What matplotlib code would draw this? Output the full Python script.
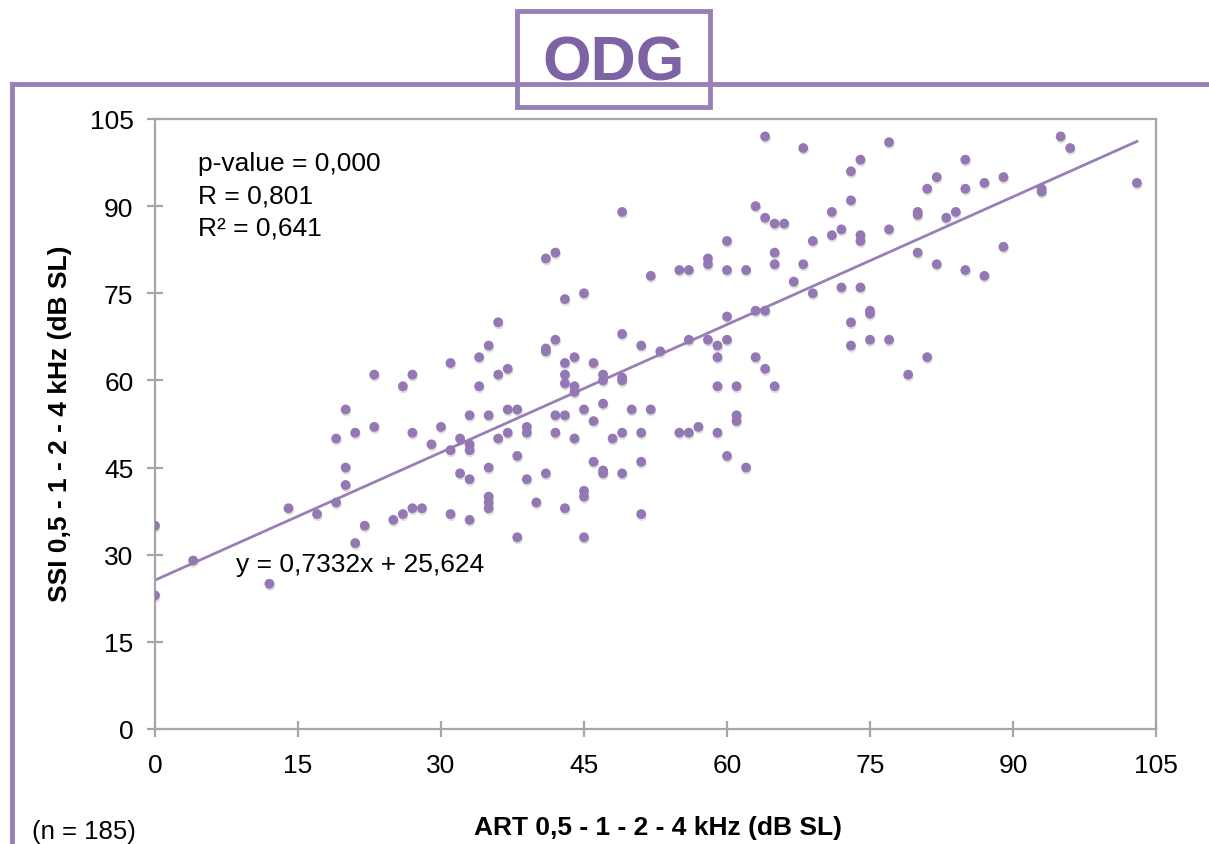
import matplotlib
matplotlib.use("Agg")
import matplotlib.pyplot as plt
import matplotlib.patheffects as pe
from matplotlib.lines import Line2D
from matplotlib.patches import Rectangle

plt.rcParams['font.family'] = ['Liberation Sans', 'DejaVu Sans']

# ART (x) and SSI (y) thresholds, dB SL
art = [0, 0, 4, 12, 14, 17, 19, 19, 20, 20, 20, 21, 21, 22, 23, 23, 25, 26, 26,
       27, 27, 27, 28, 29, 30, 31, 31, 31, 32, 32, 33, 33, 33, 33, 33, 34, 34,
       35, 35, 35, 35, 35, 35, 36, 36, 36, 37, 37, 37, 38, 38, 38, 39, 39, 39,
       40, 41, 41, 41, 41, 42, 42, 42, 42, 43, 43, 43, 43, 43, 43, 44, 44, 44,
       44, 45, 45, 45, 45, 45, 46, 46, 46, 47, 47, 47, 47, 47, 48, 49, 49, 49,
       49, 49, 49, 50, 51, 51, 51, 51, 52, 52, 53, 55, 55, 56, 56, 56, 57, 58,
       58, 58, 59, 59, 59, 59, 60, 60, 60, 60, 60, 61, 61, 61, 62, 62, 63, 63,
       63, 64, 64, 64, 64, 65, 65, 65, 65, 66, 67, 68, 68, 69, 69, 71, 71, 72,
       72, 73, 73, 73, 73, 74, 74, 74, 74, 75, 75, 75, 77, 77, 77, 79, 80, 80,
       80, 81, 81, 82, 82, 83, 84, 85, 85, 85, 87, 87, 89, 89, 93, 93, 95, 96,
       103]
ssi = [35, 23, 29, 25, 38, 37, 50, 39, 55, 45, 42, 51, 32, 35, 61, 52, 36, 59, 37,
       61, 51, 38, 38, 49, 52, 63, 48, 37, 50, 44, 54, 49, 48, 43, 36, 64, 59,
       66, 54, 45, 40, 39, 38, 70, 61, 50, 62, 55, 51, 55, 47, 33, 52, 51, 43,
       39, 81, 65, 65.5, 44, 82, 67, 54, 51, 74, 63, 61, 59.5, 54, 38, 64, 59, 58,
       50, 75, 55, 41, 40, 33, 63, 53, 46, 61, 60, 56, 44, 44.5, 50, 89, 68, 60,
       60.5, 51, 44, 55, 66, 51, 46, 37, 78, 55, 65, 79, 51, 79, 67, 51, 52, 81,
       80, 67, 66, 64, 59, 51, 84, 79, 71, 67, 47, 59, 54, 53, 79, 45, 90, 72,
       64, 102, 88, 72, 62, 87, 82, 80, 59, 87, 77, 100, 80, 84, 75, 89, 85, 86,
       76, 96, 91, 70, 66, 98, 85, 84, 76, 72, 71.5, 67, 101, 86, 67, 61, 89, 88.5,
       82, 93, 64, 95, 80, 88, 89, 98, 93, 79, 94, 78, 95, 83, 93, 92.5, 102, 100,
       94]

slope = 0.7332
intercept = 25.624
fit_x = [0, 103]
stats_lines = ["p-value = 0,000", "R = 0,801", "R\u00b2 = 0,641"]
equation = "y = 0,7332x + 25,624"
ticks = [0, 15, 30, 45, 60, 75, 90, 105]

purple = '#9880b6'
dot = '#9478b4'
grey = '#a6a6a6'

fig = plt.figure(figsize=(12.09, 8.45), dpi=100)
ax = fig.add_axes([155 / 1209, 1 - 730 / 845, 1001 / 1209, 610 / 845])

ax.scatter(art, ssi, s=50, color=dot, edgecolors='none', zorder=3,
           path_effects=[pe.SimplePatchShadow(offset=(0.4, -1.5), shadow_rgbFace='#666666', alpha=0.22),
                         pe.Normal()])
ax.plot(fit_x, [slope * v + intercept for v in fit_x], color=purple, lw=2, zorder=2)

ax.set_xlim(0, 105)
ax.set_ylim(0, 105)
ax.set_xticks(ticks)
ax.set_yticks(ticks)
ax.set_xticklabels([str(t) for t in ticks])
ax.set_yticklabels([str(t) for t in ticks])
for s in ax.spines.values():
    s.set_color(grey)
    s.set_linewidth(1.6)
ax.tick_params(axis='both', direction='inout', length=11, width=1.6, color=grey,
               labelsize=19, labelcolor='black')
ax.tick_params(axis='x', pad=12)
ax.tick_params(axis='y', pad=10)

for i, line in enumerate(stats_lines):
    ax.text(4.5, 97.5 - i * 5.6, line, fontsize=19, ha='left', va='center')
ax.text(8.5, 28.4, equation, fontsize=19, ha='left', va='center')

fig.text(658 / 1209, 1 - 828 / 845, "ART 0,5 - 1 - 2 - 4 kHz (dB SL)",
         fontsize=19, fontweight='bold', ha='center', va='center')
fig.text(60 / 1209, 1 - 424 / 845, "SSI 0,5 - 1 - 2 - 4 kHz (dB SL)",
         fontsize=19, fontweight='bold', ha='center', va='center', rotation=90)
fig.text(32 / 1209, 1 - 832 / 845, "(n = 185)", fontsize=18.5, ha='left', va='center')

# frame lines
fig.add_artist(Line2D([12 / 1209, 1.0], [1 - 85 / 845, 1 - 85 / 845],
                      color=purple, lw=3.5, transform=fig.transFigure))
fig.add_artist(Line2D([12 / 1209, 12 / 1209], [1 - 85 / 845, 0],
                      color=purple, lw=3.5, transform=fig.transFigure))
fig.add_artist(Rectangle((517 / 1209, 1 - 108 / 845), 193 / 1209, 96 / 845,
                         fill=False, edgecolor=purple, lw=3.5, transform=fig.transFigure))
fig.text(614 / 1209, 1 - 64 / 845, "ODG", fontsize=45, fontweight='bold',
         color='#7d63a3', ha='center', va='center')

fig.savefig("out.png", dpi=100)
